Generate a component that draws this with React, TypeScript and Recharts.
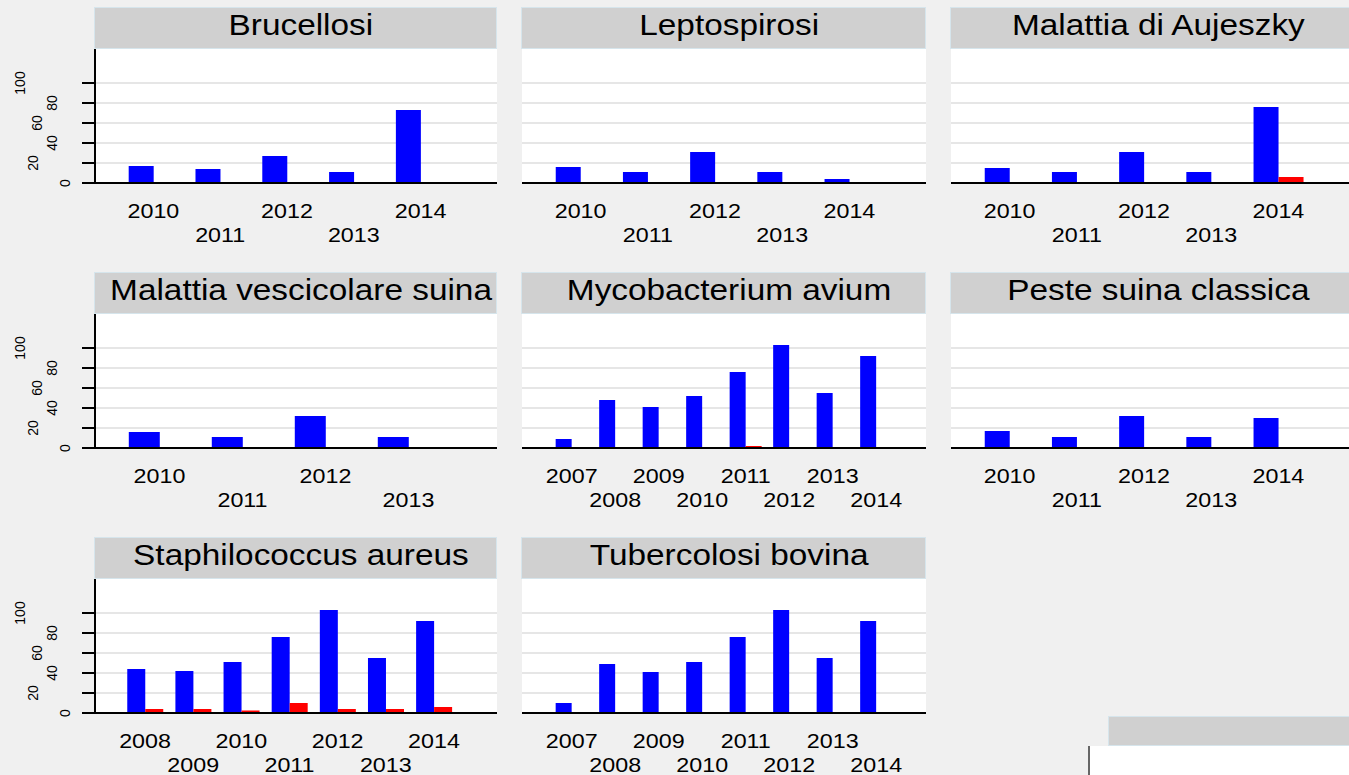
import React from 'react';
import { BarChart, Bar, XAxis, YAxis, CartesianGrid } from 'recharts';

const FONT = '"Liberation Sans", Arial, Helvetica, sans-serif';

// ---- data ----
const yTicks = [0, 20, 40, 60, 80, 100];
const yMax = 134;

const years2010to2014 = ['2010', '2011', '2012', '2013', '2014'];
const years2010to2013 = ['2010', '2011', '2012', '2013'];
const years2008to2014 = ['2008', '2009', '2010', '2011', '2012', '2013', '2014'];
const years2007to2014 = ['2007', '2008', '2009', '2010', '2011', '2012', '2013', '2014'];

const panelTitles = [
  'Brucellosi',
  'Leptospirosi',
  'Malattia di Aujeszky',
  'Malattia vescicolare suina',
  'Mycobacterium avium',
  'Peste suina classica',
  'Staphilococcus aureus',
  'Tubercolosi bovina',
];

const brucellosiBlue = [17, 14, 27, 11, 73];
const brucellosiRed = [0, 0, 0, 0, 0];
const leptospirosiBlue = [16, 11, 31, 11, 4];
const leptospirosiRed = [0, 0, 0, 0, 0];
const aujeszkyBlue = [15, 11, 31, 11, 76];
const aujeszkyRed = [0, 0, 0, 0, 6];
const vescicolareBlue = [16, 11, 32, 11];
const vescicolareRed = [0, 0, 0, 0];
const mycobacteriumBlue = [9, 48, 41, 52, 76, 103, 55, 92];
const mycobacteriumRed = [0, 0, 0, 0, 2, 0, 0, 0];
const pesteBlue = [17, 11, 32, 11, 30];
const pesteRed = [0, 0, 0, 0, 0];
const staphBlue = [44, 42, 51, 76, 103, 55, 92];
const staphRed = [4, 4, 2.5, 10, 4, 4, 6];
const tubercolosiBlue = [10, 49, 41, 51, 76, 103, 55, 92];
const tubercolosiRed = [0, 0, 0, 0, 0, 0, 0, 0];

const panelYears = [
  years2010to2014, years2010to2014, years2010to2014,
  years2010to2013, years2007to2014, years2010to2014,
  years2008to2014, years2007to2014,
];
const panelBlue = [
  brucellosiBlue, leptospirosiBlue, aujeszkyBlue,
  vescicolareBlue, mycobacteriumBlue, pesteBlue,
  staphBlue, tubercolosiBlue,
];
const panelRed = [
  brucellosiRed, leptospirosiRed, aujeszkyRed,
  vescicolareRed, mycobacteriumRed, pesteRed,
  staphRed, tubercolosiRed,
];

// ---- layout / style ----
const colPlotX = [95, 522, 951];
const colPlotW = [402, 404, 404];
const rowStripTop = [7, 272, 537];
const STRIP_H = 42;
const PLOT_H = 134;
const XAXIS_H = 70;
const YAXIS_W = 95;
const padByCount: Record<number, { left: number; right: number }> = {
  4: { left: 23, right: 47 },
  5: { left: 25, right: 43 },
  7: { left: 26, right: 39 },
  8: { left: 28, right: 28 },
};
const yLabelOffsets = [-30, -62, -43, -58, -43, -75];

function XTick(props: any) {
  const { x, y, payload, index } = props;
  const dy = index % 2 === 0 ? 34.5 : 58.5;
  return (
    <g transform={`translate(${x},${y + dy}) scale(1.11,1)`}>
      <text x={0} y={0} textAnchor="middle" fontFamily={FONT} fontSize={21} fill="#000">
        {payload.value}
      </text>
    </g>
  );
}

function YTick(props: any) {
  const { x, y, payload } = props;
  const axisX = x + 13;
  const i = yTicks.indexOf(payload.value);
  const cx = axisX + (i >= 0 ? yLabelOffsets[i] : -30);
  return (
    <text
      x={cx}
      y={y}
      transform={`rotate(-90 ${cx} ${y})`}
      textAnchor="middle"
      dominantBaseline="central"
      fontFamily={FONT}
      fontSize={14}
      fill="#000"
    >
      {payload.value}
    </text>
  );
}

function Strip({ left, top, width, height, title }: any) {
  return (
    <div
      style={{
        position: 'absolute',
        left,
        top,
        width,
        height,
        boxSizing: 'border-box',
        background: '#d0d0d0',
        border: '1px solid #d6e5ec',
        overflow: 'hidden',
        textAlign: 'center',
        fontFamily: FONT,
        fontSize: 29,
        lineHeight: `${height - 2}px`,
        color: '#000',
        whiteSpace: 'nowrap',
      }}
    >
      {title ? (
        <span
          style={{
            display: 'inline-block',
            position: 'relative',
            left: 5.5,
            top: -3,
            transform: 'scaleX(1.15)',
          }}
        >
          {title}
        </span>
      ) : null}
    </div>
  );
}

function Panel({ idx }: { idx: number }) {
  const col = idx % 3;
  const row = Math.floor(idx / 3);
  const years = panelYears[idx];
  const data = years.map((year, i) => ({ year, blue: panelBlue[idx][i], red: panelRed[idx][i] }));
  const plotX = colPlotX[col];
  const plotW = colPlotW[col];
  const stripTop = rowStripTop[row];
  const plotTop = stripTop + STRIP_H;
  const showY = col === 0;
  const chartLeft = showY ? plotX - YAXIS_W : plotX;
  const chartW = showY ? plotW + YAXIS_W : plotW;
  const pad = padByCount[years.length];
  return (
    <>
      <Strip left={plotX - 1} top={stripTop} width={plotW + 1} height={STRIP_H} title={panelTitles[idx]} />
      <div style={{ position: 'absolute', left: chartLeft, top: plotTop }}>
        <BarChart
          width={chartW}
          height={PLOT_H + XAXIS_H}
          data={data}
          margin={{ top: 0, right: 0, bottom: 0, left: 0 }}
          barGap={0}
          barCategoryGap="13%"
        >
          <CartesianGrid
            vertical={false}
            stroke="#e6e6e6"
            strokeWidth={2}
            fill="#ffffff"
            horizontalValues={yTicks}
          />
          <XAxis
            dataKey="year"
            type="category"
            height={XAXIS_H}
            interval={0}
            tickLine={false}
            tickSize={0}
            tickMargin={0}
            axisLine={{ stroke: '#000', strokeWidth: 2 }}
            padding={pad}
            tick={XTick}
          />
          <YAxis
            type="number"
            domain={[0, yMax]}
            ticks={yTicks}
            interval={0}
            width={YAXIS_W}
            hide={!showY}
            tickSize={13}
            tickMargin={0}
            tickLine={{ stroke: '#000', strokeWidth: 2 }}
            axisLine={{ stroke: '#000', strokeWidth: 2 }}
            tick={YTick}
            allowDataOverflow
          />
          <Bar dataKey="blue" fill="#0000ff" isAnimationActive={false} />
          <Bar dataKey="red" fill="#ff0000" isAnimationActive={false} />
        </BarChart>
      </div>
    </>
  );
}

export default function App() {
  return (
    <div
      style={{
        position: 'absolute',
        left: 0,
        top: 0,
        width: 1349,
        height: 775,
        background: '#f0f0f0',
        overflow: 'hidden',
      }}
    >
      {panelTitles.map((_, i) => (
        <Panel key={i} idx={i} />
      ))}
      <Strip left={1108} top={716} width={260} height={30} title="" />
      <div
        style={{
          position: 'absolute',
          left: 1088,
          top: 746,
          width: 280,
          height: 40,
          background: '#ffffff',
          borderLeft: '2px solid #666',
        }}
      />
    </div>
  );
}
